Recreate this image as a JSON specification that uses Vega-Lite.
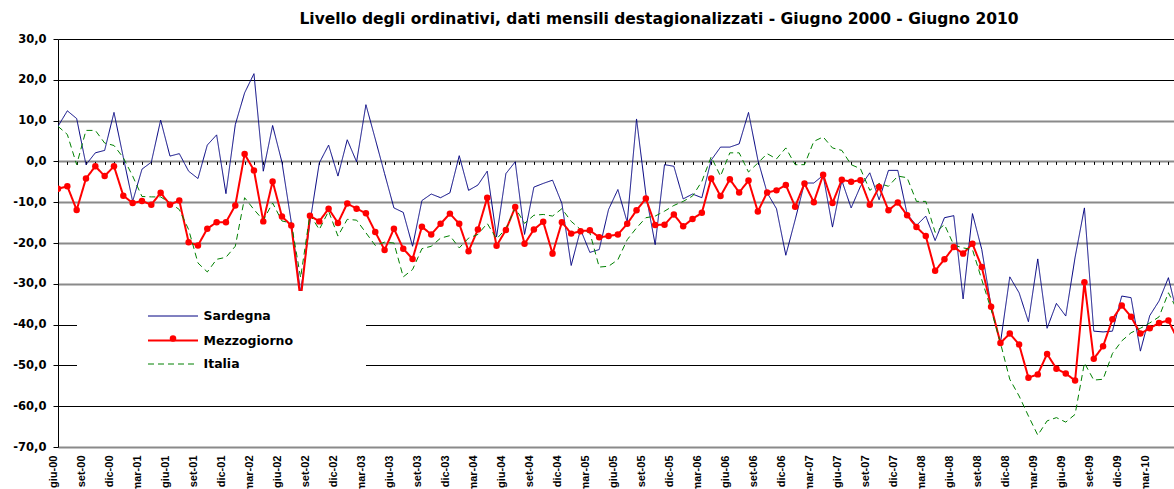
{
  "$schema": "https://vega.github.io/schema/vega-lite/v6.json",
  "width": 1116,
  "height": 408,
  "autosize": {"type": "none"},
  "padding": {"left": 58, "top": 39, "right": 0, "bottom": 42},
  "background": "white",
  "title": {
    "text": "Livello degli ordinativi, dati mensili destagionalizzati - Giugno 2000 - Giugno 2010",
    "font": "DejaVu Sans",
    "fontSize": 15.5,
    "fontWeight": "bold",
    "color": "black",
    "anchor": "middle",
    "dx": 43,
    "offset": 6
  },
  "data": {
    "values": [
      {"i": 0, "mese": "giu-00", "Sardegna": 8.6, "Mezzogiorno": -6.7, "Italia": 8.6},
      {"i": 1, "mese": "lug-00", "Sardegna": 12.4, "Mezzogiorno": -6.1, "Italia": 6.6},
      {"i": 2, "mese": "ago-00", "Sardegna": 10.5, "Mezzogiorno": -11.9, "Italia": -0.8},
      {"i": 3, "mese": "set-00", "Sardegna": -0.8, "Mezzogiorno": -4.2, "Italia": 7.6},
      {"i": 4, "mese": "ott-00", "Sardegna": 2.1, "Mezzogiorno": -1.2, "Italia": 7.6},
      {"i": 5, "mese": "nov-00", "Sardegna": 2.7, "Mezzogiorno": -3.6, "Italia": 4.5},
      {"i": 6, "mese": "dic-00", "Sardegna": 12.0, "Mezzogiorno": -1.2, "Italia": 3.9},
      {"i": 7, "mese": "gen-01", "Sardegna": 1.0, "Mezzogiorno": -8.4, "Italia": 0.9},
      {"i": 8, "mese": "feb-01", "Sardegna": -9.8, "Mezzogiorno": -10.2, "Italia": -3.6},
      {"i": 9, "mese": "mar-01", "Sardegna": -1.9, "Mezzogiorno": -9.7, "Italia": -8.6},
      {"i": 10, "mese": "apr-01", "Sardegna": -0.2, "Mezzogiorno": -10.6, "Italia": -8.7},
      {"i": 11, "mese": "mag-01", "Sardegna": 10.1, "Mezzogiorno": -7.7, "Italia": -8.7},
      {"i": 12, "mese": "giu-01", "Sardegna": 1.3, "Mezzogiorno": -10.6, "Italia": -10.2},
      {"i": 13, "mese": "lug-01", "Sardegna": 1.9, "Mezzogiorno": -9.6, "Italia": -11.8},
      {"i": 14, "mese": "ago-01", "Sardegna": -2.4, "Mezzogiorno": -19.8, "Italia": -16.7},
      {"i": 15, "mese": "set-01", "Sardegna": -4.2, "Mezzogiorno": -20.6, "Italia": -24.9},
      {"i": 16, "mese": "ott-01", "Sardegna": 4.0, "Mezzogiorno": -16.5, "Italia": -27.1},
      {"i": 17, "mese": "nov-01", "Sardegna": 6.5, "Mezzogiorno": -14.9, "Italia": -24.0},
      {"i": 18, "mese": "dic-01", "Sardegna": -7.9, "Mezzogiorno": -14.9, "Italia": -23.5},
      {"i": 19, "mese": "gen-02", "Sardegna": 9.0, "Mezzogiorno": -10.8, "Italia": -20.8},
      {"i": 20, "mese": "feb-02", "Sardegna": 16.8, "Mezzogiorno": 1.8, "Italia": -8.9},
      {"i": 21, "mese": "mar-02", "Sardegna": 21.5, "Mezzogiorno": -2.2, "Italia": -11.8},
      {"i": 22, "mese": "apr-02", "Sardegna": -2.4, "Mezzogiorno": -14.7, "Italia": -14.4},
      {"i": 23, "mese": "mag-02", "Sardegna": 8.8, "Mezzogiorno": -4.9, "Italia": -10.2},
      {"i": 24, "mese": "giu-02", "Sardegna": -0.2, "Mezzogiorno": -13.5, "Italia": -14.6},
      {"i": 25, "mese": "lug-02", "Sardegna": -14.9, "Mezzogiorno": -15.7, "Italia": -15.1},
      {"i": 26, "mese": "ago-02", "Sardegna": -32.2, "Mezzogiorno": -34.0, "Italia": -28.5},
      {"i": 27, "mese": "set-02", "Sardegna": -15.0, "Mezzogiorno": -13.3, "Italia": -13.0},
      {"i": 28, "mese": "ott-02", "Sardegna": -0.4, "Mezzogiorno": -14.7, "Italia": -16.7},
      {"i": 29, "mese": "nov-02", "Sardegna": 4.0, "Mezzogiorno": -11.6, "Italia": -12.2},
      {"i": 30, "mese": "dic-02", "Sardegna": -3.6, "Mezzogiorno": -15.1, "Italia": -18.3},
      {"i": 31, "mese": "gen-03", "Sardegna": 5.3, "Mezzogiorno": -10.3, "Italia": -14.2},
      {"i": 32, "mese": "feb-03", "Sardegna": -0.1, "Mezzogiorno": -11.6, "Italia": -14.4},
      {"i": 33, "mese": "mar-03", "Sardegna": 13.9, "Mezzogiorno": -12.7, "Italia": -17.5},
      {"i": 34, "mese": "apr-03", "Sardegna": 5.5, "Mezzogiorno": -17.3, "Italia": -20.6},
      {"i": 35, "mese": "mag-03", "Sardegna": -3.0, "Mezzogiorno": -21.7, "Italia": -19.8},
      {"i": 36, "mese": "giu-03", "Sardegna": -11.4, "Mezzogiorno": -16.5, "Italia": -20.0},
      {"i": 37, "mese": "lug-03", "Sardegna": -12.5, "Mezzogiorno": -21.4, "Italia": -28.3},
      {"i": 38, "mese": "ago-03", "Sardegna": -20.8, "Mezzogiorno": -23.9, "Italia": -26.5},
      {"i": 39, "mese": "set-03", "Sardegna": -9.6, "Mezzogiorno": -16.0, "Italia": -21.4},
      {"i": 40, "mese": "ott-03", "Sardegna": -8.0, "Mezzogiorno": -17.9, "Italia": -20.8},
      {"i": 41, "mese": "nov-03", "Sardegna": -8.9, "Mezzogiorno": -15.3, "Italia": -18.8},
      {"i": 42, "mese": "dic-03", "Sardegna": -7.7, "Mezzogiorno": -12.8, "Italia": -18.2},
      {"i": 43, "mese": "gen-04", "Sardegna": 1.4, "Mezzogiorno": -15.3, "Italia": -21.2},
      {"i": 44, "mese": "feb-04", "Sardegna": -7.1, "Mezzogiorno": -22.0, "Italia": -18.8},
      {"i": 45, "mese": "mar-04", "Sardegna": -5.8, "Mezzogiorno": -16.7, "Italia": -17.9},
      {"i": 46, "mese": "apr-04", "Sardegna": -2.4, "Mezzogiorno": -8.9, "Italia": -15.2},
      {"i": 47, "mese": "mag-04", "Sardegna": -18.5, "Mezzogiorno": -20.7, "Italia": -19.0},
      {"i": 48, "mese": "giu-04", "Sardegna": -3.0, "Mezzogiorno": -16.8, "Italia": -16.5},
      {"i": 49, "mese": "lug-04", "Sardegna": -0.1, "Mezzogiorno": -11.2, "Italia": -11.4},
      {"i": 50, "mese": "ago-04", "Sardegna": -17.9, "Mezzogiorno": -20.2, "Italia": -15.2},
      {"i": 51, "mese": "set-04", "Sardegna": -6.3, "Mezzogiorno": -16.7, "Italia": -13.2},
      {"i": 52, "mese": "ott-04", "Sardegna": -5.4, "Mezzogiorno": -14.8, "Italia": -13.0},
      {"i": 53, "mese": "nov-04", "Sardegna": -4.6, "Mezzogiorno": -22.6, "Italia": -13.4},
      {"i": 54, "mese": "dic-04", "Sardegna": -10.3, "Mezzogiorno": -14.9, "Italia": -11.6},
      {"i": 55, "mese": "gen-05", "Sardegna": -25.5, "Mezzogiorno": -17.7, "Italia": -14.7},
      {"i": 56, "mese": "feb-05", "Sardegna": -16.7, "Mezzogiorno": -17.1, "Italia": -16.7},
      {"i": 57, "mese": "mar-05", "Sardegna": -22.3, "Mezzogiorno": -16.9, "Italia": -17.5},
      {"i": 58, "mese": "apr-05", "Sardegna": -21.6, "Mezzogiorno": -18.6, "Italia": -25.9},
      {"i": 59, "mese": "mag-05", "Sardegna": -11.8, "Mezzogiorno": -18.3, "Italia": -25.7},
      {"i": 60, "mese": "giu-05", "Sardegna": -6.9, "Mezzogiorno": -17.9, "Italia": -24.1},
      {"i": 61, "mese": "lug-05", "Sardegna": -14.9, "Mezzogiorno": -15.3, "Italia": -19.2},
      {"i": 62, "mese": "ago-05", "Sardegna": 10.4, "Mezzogiorno": -12.0, "Italia": -16.3},
      {"i": 63, "mese": "set-05", "Sardegna": -8.0, "Mezzogiorno": -9.1, "Italia": -13.8},
      {"i": 64, "mese": "ott-05", "Sardegna": -20.4, "Mezzogiorno": -15.6, "Italia": -13.4},
      {"i": 65, "mese": "nov-05", "Sardegna": -0.8, "Mezzogiorno": -15.5, "Italia": -12.2},
      {"i": 66, "mese": "dic-05", "Sardegna": -1.2, "Mezzogiorno": -13.0, "Italia": -10.8},
      {"i": 67, "mese": "gen-06", "Sardegna": -9.2, "Mezzogiorno": -15.9, "Italia": -9.8},
      {"i": 68, "mese": "feb-06", "Sardegna": -8.0, "Mezzogiorno": -14.1, "Italia": -8.5},
      {"i": 69, "mese": "mar-06", "Sardegna": -8.9, "Mezzogiorno": -12.6, "Italia": -4.9},
      {"i": 70, "mese": "apr-06", "Sardegna": 0.3, "Mezzogiorno": -4.2, "Italia": 1.1},
      {"i": 71, "mese": "mag-06", "Sardegna": 3.5, "Mezzogiorno": -8.5, "Italia": -3.6},
      {"i": 72, "mese": "giu-06", "Sardegna": 3.5, "Mezzogiorno": -4.4, "Italia": 2.1},
      {"i": 73, "mese": "lug-06", "Sardegna": 4.3, "Mezzogiorno": -7.6, "Italia": 2.1},
      {"i": 74, "mese": "ago-06", "Sardegna": 12.0, "Mezzogiorno": -4.7, "Italia": -2.6},
      {"i": 75, "mese": "set-06", "Sardegna": 0.4, "Mezzogiorno": -12.3, "Italia": -0.4},
      {"i": 76, "mese": "ott-06", "Sardegna": -7.7, "Mezzogiorno": -7.6, "Italia": 1.9},
      {"i": 77, "mese": "nov-06", "Sardegna": -11.6, "Mezzogiorno": -7.1, "Italia": 0.6},
      {"i": 78, "mese": "dic-06", "Sardegna": -23.0, "Mezzogiorno": -5.8, "Italia": 3.3},
      {"i": 79, "mese": "gen-07", "Sardegna": -14.3, "Mezzogiorno": -11.1, "Italia": -0.8},
      {"i": 80, "mese": "feb-07", "Sardegna": -5.3, "Mezzogiorno": -5.4, "Italia": -0.8},
      {"i": 81, "mese": "mar-07", "Sardegna": -5.3, "Mezzogiorno": -10.0, "Italia": 4.9},
      {"i": 82, "mese": "apr-07", "Sardegna": -3.4, "Mezzogiorno": -3.3, "Italia": 6.0},
      {"i": 83, "mese": "mag-07", "Sardegna": -16.1, "Mezzogiorno": -10.2, "Italia": 3.3},
      {"i": 84, "mese": "giu-07", "Sardegna": -4.7, "Mezzogiorno": -4.5, "Italia": 2.7},
      {"i": 85, "mese": "lug-07", "Sardegna": -11.4, "Mezzogiorno": -5.0, "Italia": -0.8},
      {"i": 86, "mese": "ago-07", "Sardegna": -6.1, "Mezzogiorno": -4.6, "Italia": -1.8},
      {"i": 87, "mese": "set-07", "Sardegna": -2.8, "Mezzogiorno": -10.6, "Italia": -7.1},
      {"i": 88, "mese": "ott-07", "Sardegna": -9.4, "Mezzogiorno": -6.3, "Italia": -5.4},
      {"i": 89, "mese": "nov-07", "Sardegna": -2.2, "Mezzogiorno": -12.0, "Italia": -6.1},
      {"i": 90, "mese": "dic-07", "Sardegna": -2.2, "Mezzogiorno": -10.1, "Italia": -3.6},
      {"i": 91, "mese": "gen-08", "Sardegna": -12.9, "Mezzogiorno": -13.2, "Italia": -4.0},
      {"i": 92, "mese": "feb-08", "Sardegna": -15.7, "Mezzogiorno": -16.1, "Italia": -9.8},
      {"i": 93, "mese": "mar-08", "Sardegna": -13.4, "Mezzogiorno": -18.3, "Italia": -9.8},
      {"i": 94, "mese": "apr-08", "Sardegna": -19.4, "Mezzogiorno": -26.8, "Italia": -17.4},
      {"i": 95, "mese": "mag-08", "Sardegna": -13.8, "Mezzogiorno": -24.0, "Italia": -15.5},
      {"i": 96, "mese": "giu-08", "Sardegna": -13.3, "Mezzogiorno": -21.0, "Italia": -20.5},
      {"i": 97, "mese": "lug-08", "Sardegna": -33.7, "Mezzogiorno": -22.6, "Italia": -21.2},
      {"i": 98, "mese": "ago-08", "Sardegna": -12.8, "Mezzogiorno": -20.2, "Italia": -21.6},
      {"i": 99, "mese": "set-08", "Sardegna": -21.6, "Mezzogiorno": -25.9, "Italia": -29.0},
      {"i": 100, "mese": "ott-08", "Sardegna": -35.5, "Mezzogiorno": -35.6, "Italia": -36.3},
      {"i": 101, "mese": "nov-08", "Sardegna": -44.5, "Mezzogiorno": -44.5, "Italia": -44.5},
      {"i": 102, "mese": "dic-08", "Sardegna": -28.3, "Mezzogiorno": -42.2, "Italia": -53.4},
      {"i": 103, "mese": "gen-09", "Sardegna": -32.2, "Mezzogiorno": -44.9, "Italia": -57.5},
      {"i": 104, "mese": "feb-09", "Sardegna": -39.3, "Mezzogiorno": -53.0, "Italia": -62.4},
      {"i": 105, "mese": "mar-09", "Sardegna": -23.9, "Mezzogiorno": -52.2, "Italia": -67.1},
      {"i": 106, "mese": "apr-09", "Sardegna": -40.9, "Mezzogiorno": -47.2, "Italia": -63.6},
      {"i": 107, "mese": "mag-09", "Sardegna": -34.8, "Mezzogiorno": -50.8, "Italia": -62.8},
      {"i": 108, "mese": "giu-09", "Sardegna": -37.9, "Mezzogiorno": -52.0, "Italia": -63.9},
      {"i": 109, "mese": "lug-09", "Sardegna": -23.5, "Mezzogiorno": -53.7, "Italia": -62.0},
      {"i": 110, "mese": "ago-09", "Sardegna": -11.4, "Mezzogiorno": -29.6, "Italia": -49.4},
      {"i": 111, "mese": "set-09", "Sardegna": -41.6, "Mezzogiorno": -48.4, "Italia": -53.6},
      {"i": 112, "mese": "ott-09", "Sardegna": -41.8, "Mezzogiorno": -45.3, "Italia": -53.4},
      {"i": 113, "mese": "nov-09", "Sardegna": -41.6, "Mezzogiorno": -38.7, "Italia": -47.1},
      {"i": 114, "mese": "dic-09", "Sardegna": -33.0, "Mezzogiorno": -35.3, "Italia": -44.0},
      {"i": 115, "mese": "gen-10", "Sardegna": -33.4, "Mezzogiorno": -38.1, "Italia": -42.0},
      {"i": 116, "mese": "feb-10", "Sardegna": -46.5, "Mezzogiorno": -42.2, "Italia": -40.9},
      {"i": 117, "mese": "mar-10", "Sardegna": -37.8, "Mezzogiorno": -40.9, "Italia": -39.6},
      {"i": 118, "mese": "apr-10", "Sardegna": -34.2, "Mezzogiorno": -39.6, "Italia": -38.1},
      {"i": 119, "mese": "mag-10", "Sardegna": -28.5, "Mezzogiorno": -39.0, "Italia": -32.2},
      {"i": 120, "mese": "giu-10", "Sardegna": -38.0, "Mezzogiorno": -43.7, "Italia": -36.7}
    ]
  },
  "transform": [
    {"fold": ["Sardegna", "Mezzogiorno", "Italia"], "as": ["serie", "valore"]}
  ],
  "encoding": {
    "y": {
      "field": "valore",
      "type": "quantitative",
      "title": null,
      "scale": {"domain": [-70, 30], "nice": false, "zero": false},
      "axis": {
        "values": [-70, -60, -50, -40, -30, -20, -10, 0, 10, 20, 30],
        "format": ".1f",
        "labelFont": "DejaVu Sans",
        "labelFontWeight": "bold",
        "labelFontSize": 11.5,
        "labelColor": "black",
        "labelPadding": 7,
        "tickColor": "black",
        "tickSize": 5,
        "domainColor": "black",
        "domainWidth": 1,
        "grid": true,
        "gridColor": {"condition": {"test": "datum.value >= 20 || (datum.value <= -40 && datum.value >= -60)", "value": "#000000"}, "value": "#8a8a8a"},
        "gridWidth": {"condition": {"test": "datum.value >= 20 || (datum.value <= -40 && datum.value >= -60)", "value": 1}, "value": 2}
      }
    }
  },
  "layer": [
    {
      "mark": {"type": "line", "clip": true},
      "encoding": {
        "x": {
          "field": "i",
          "type": "quantitative",
          "title": null,
          "scale": {"domain": [0, 119.6], "nice": false, "zero": false},
          "axis": {
            "orient": "bottom",
            "values": [0, 3, 6, 9, 12, 15, 18, 21, 24, 27, 30, 33, 36, 39, 42, 45, 48, 51, 54, 57, 60, 63, 66, 69, 72, 75, 78, 81, 84, 87, 90, 93, 96, 99, 102, 105, 108, 111, 114, 117],
            "labelExpr": "['gen','feb','mar','apr','mag','giu','lug','ago','set','ott','nov','dic'][(datum.value + 5) % 12] + '-' + slice('0' + floor((datum.value + 5) / 12), -2)",
            "labelAngle": 270,
            "labelAlign": "right",
            "labelBaseline": "middle",
            "labelOffset": -4.5,
            "labelPadding": 8,
            "labelFont": "Liberation Sans",
            "labelFontWeight": "bold",
            "labelFontSize": 11,
            "labelColor": "black",
            "labelOverlap": false,
            "labelFlush": false,
            "ticks": false,
            "tickSize": 0,
            "domain": false,
            "grid": false
          }
        },
        "color": {
          "field": "serie",
          "type": "nominal",
          "scale": {"domain": ["Sardegna", "Mezzogiorno", "Italia"], "range": ["#000080", "#FF0000", "#008000"]},
          "legend": {
            "orient": "none",
            "legendX": 19,
            "legendY": 252,
            "direction": "vertical",
            "title": "\u00a0",
            "titleOrient": "right",
            "titlePadding": 57,
            "titleFontSize": 12,
            "fillColor": "white",
            "padding": 16,
            "symbolType": "M-3,0L3,0",
            "symbolSize": 278,
            "symbolOffset": 70.5,
            "labelOffset": 21,
            "labelLimit": 300,
            "rowPadding": 8,
            "labelFont": "DejaVu Sans",
            "labelFontWeight": "bold",
            "labelFontSize": 12.5,
            "labelColor": "black",
            "zindex": 1
          }
        },
        "strokeWidth": {
          "field": "serie",
          "type": "nominal",
          "scale": {"type": "ordinal", "domain": ["Sardegna", "Mezzogiorno", "Italia"], "range": [1, 2, 1]}
        },
        "strokeDash": {
          "field": "serie",
          "type": "nominal",
          "scale": {"domain": ["Sardegna", "Mezzogiorno", "Italia"], "range": [[1, 0], [1, 0], [6, 4]]}
        }
      }
    },
    {
      "transform": [{"filter": "datum.serie === 'Mezzogiorno'"}],
      "mark": {"type": "point", "filled": true, "clip": true, "size": 42, "color": "#FF0000", "opacity": 1},
      "encoding": {
        "x": {
          "field": "i",
          "type": "quantitative",
          "title": null,
          "axis": {
            "orient": "top",
            "offset": -122.4,
            "labels": false,
            "domain": false,
            "grid": false,
            "ticks": true,
            "tickSize": -3,
            "tickColor": "black",
            "tickCount": 120
          }
        },
        "shape": {
          "field": "serie",
          "type": "nominal",
          "scale": {"domain": ["Mezzogiorno"], "range": ["circle"]},
          "legend": {
            "orient": "none",
            "legendX": 111.5,
            "legendY": 296,
            "title": null,
            "padding": 0,
            "labelExpr": "''",
            "labelFontSize": 1,
            "symbolSize": 42,
            "symbolFillColor": "#FF0000",
            "symbolStrokeColor": "#FF0000",
            "symbolStrokeWidth": 0,
            "symbolOpacity": 1,
            "zindex": 5
          }
        }
      }
    }
  ],
  "resolve": {"axis": {"x": "independent"}},
  "config": {
    "view": {"stroke": null},
    "locale": {
      "number": {"decimal": ",", "thousands": ".", "grouping": [3], "currency": ["€", ""], "minus": "-"}
    }
  }
}
